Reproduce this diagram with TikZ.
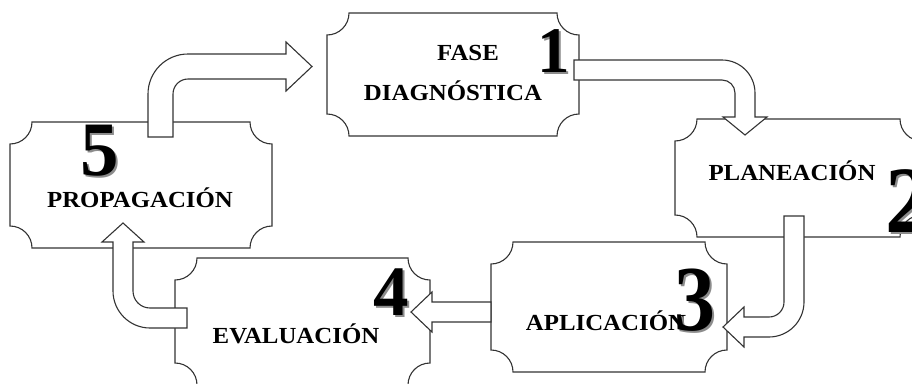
\documentclass[tikz,border=0pt]{standalone}
\usepackage{fontspec}
\setmainfont{Liberation Serif}
\newcommand\plaquebox[6]{% name x1 y1 x2 y2 r
  \path[plq] (#2,#3+#6) .. controls (#2+0.552*#6,#3+#6) and (#2+#6,#3+0.552*#6) .. (#2+#6,#3)
    -- (#4-#6,#3) .. controls (#4-#6,#3+0.552*#6) and (#4-0.552*#6,#3+#6) .. (#4,#3+#6)
    -- (#4,#5-#6) .. controls (#4-0.552*#6,#5-#6) and (#4-#6,#5-0.552*#6) .. (#4-#6,#5)
    -- (#2+#6,#5) .. controls (#2+#6,#5-0.552*#6) and (#2+0.552*#6,#5-#6) .. (#2,#5-#6) -- cycle;
  \coordinate (#1) at ({(#2+#4)/2},{(#3+#5)/2});
}
\newcommand\bignum[6]{% name x y size xscale digit
  \node[numshadow, font=\bfseries\fontsize{#4}{#4}\selectfont, xscale=#5] (#1s) at (#2+2.2,#3+2.2) {#6};
  \node[numtext, font=\bfseries\fontsize{#4}{#4}\selectfont, xscale=#5] (#1) at (#2,#3) {#6};
}
\tikzset{
  plq/.style={draw=black!80, line width=1.1pt, fill=white},
  barrow/.style={draw=black!80, line width=1.1pt, fill=white, line join=miter},
  lbl/.style={inner sep=0pt, anchor=base, text=black, font=\bfseries\fontsize{23}{25}\selectfont, xscale=1.08},
  numtext/.style={inner sep=0pt, anchor=base, text=black},
  numshadow/.style={inner sep=0pt, anchor=base, text=black!45},
}
\begin{document}
\begin{tikzpicture}[x=1pt,y=-1pt]
\useasboundingbox (0,0) rectangle (912,383);
\begin{scope}
\clip (0,0) rectangle (912,383);
% boxes
\plaquebox{b1}{327}{13}{579}{136}{22}
\plaquebox{b2}{675}{119}{922}{237}{22}
\plaquebox{b3}{491}{242}{727}{372}{22}
\plaquebox{b4}{175}{258}{430}{385}{22}
\plaquebox{b5}{10}{122}{272}{248}{22}
% arrow 5 -> 1
\path[barrow] (148,137) -- (148,94) .. controls (148,71.9) and (165.9,54) .. (188,54)
  -- (286,54) -- (286,42) -- (312,66.5) -- (286,91) -- (286,79) -- (188,79)
  .. controls (179.7,79) and (173,85.7) .. (173,94) -- (173,137) -- cycle;
% arrow 1 -> 2
\path[barrow] (574,60) -- (722,60) .. controls (740.2,60) and (755,74.8) .. (755,93)
  -- (755,117) -- (767,117) -- (745,135) -- (723,117) -- (735,117) -- (735,93)
  .. controls (735,85.8) and (729.2,80) .. (722,80) -- (574,80) -- cycle;
% arrow 2 -> 3
\path[barrow] (784,216) -- (804,216) -- (804,302) .. controls (804,321.3) and (788.3,337) .. (769,337)
  -- (744,337) -- (744,347) -- (723,327) -- (744,307) -- (744,317) -- (769,317)
  .. controls (777.3,317) and (784,310.3) .. (784,302) -- cycle;
% arrow 3 -> 4
\path[barrow] (491,302) -- (432,302) -- (432,292) -- (411,312) -- (432,332) -- (432,322) -- (491,322) -- cycle;
% arrow 4 -> 5
\path[barrow] (187,308) -- (150,308) .. controls (140.6,308) and (133,300.4) .. (133,291)
  -- (133,242) -- (144,242) -- (123,223) -- (102,242) -- (113,242) -- (113,291)
  .. controls (113,311.4) and (129.6,328) .. (150,328) -- (187,328) -- cycle;
% labels
\node[lbl] (t1a) at (468,60) {FASE};
\node[lbl] (t1b) at (453,100) {DIAGNÓSTICA};
\node[lbl] (t2) at (792,180) {PLANEACIÓN};
\node[lbl] (t3) at (606,330) {APLICACIÓN};
\node[lbl] (t4) at (296,343) {EVALUACIÓN};
\node[lbl] (t5) at (140,207) {PROPAGACIÓN};
% numbers
\bignum{n1}{554}{72}{65}{1}{1}
\bignum{n2}{908}{232}{95}{0.95}{2}
\bignum{n3}{695}{330}{93}{0.88}{3}
\bignum{n4}{391}{315}{71}{1}{4}
\bignum{n5}{100}{175}{77}{1}{5}
\end{scope}
\end{tikzpicture}
\end{document}
